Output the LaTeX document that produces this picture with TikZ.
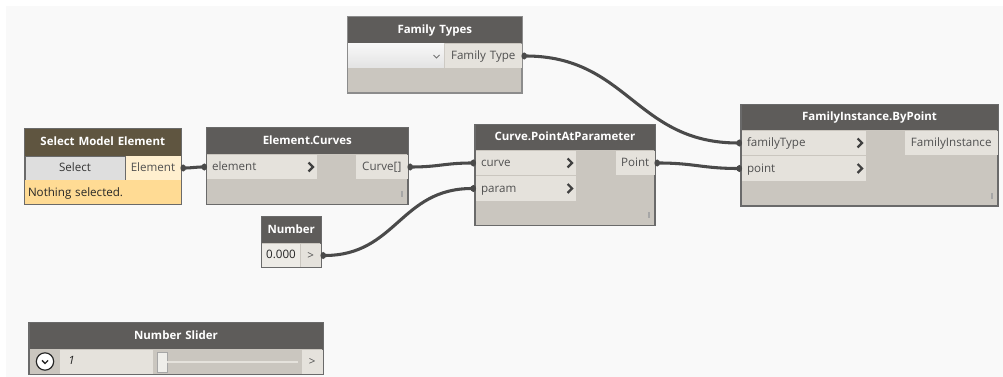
\documentclass[tikz,border=0pt]{standalone}
\usepackage{fontspec}
\setmainfont{Open Sans}
\usetikzlibrary{arrows.meta}
\definecolor{bgc}{HTML}{F9F9F9}
\definecolor{hdr}{HTML}{5E5C5A}
\definecolor{hdrsel}{HTML}{5F5540}
\definecolor{bodyc}{HTML}{CAC6BF}
\definecolor{portc}{HTML}{E5E2DC}
\definecolor{edge}{HTML}{6A6A6A}
\definecolor{wire}{HTML}{4A4A4A}
\definecolor{txt}{HTML}{505050}
\definecolor{selmsg}{HTML}{FFDB94}
\definecolor{selport}{HTML}{FFEFCF}
\definecolor{btnc}{HTML}{DEDEDE}
\newcommand\pbox[7]{%
  \pgfmathsetlengthmacro\bw{(#5-#3)*0.75pt}%
  \pgfmathsetlengthmacro\bh{(#6-#4)*0.75pt}%
  \node[#1,anchor=north west,text width=\bw-4.5pt,minimum height=\bh] (#2) at (#3,#4) {#7};}
\newcommand\chev[1]{\draw[chevron] ([xshift=-8.5*0.75pt,yshift=4.5*0.75pt]#1.east) -- ++(4.5,4.5) -- ++(-4.5,4.5);}
\newcommand\grip[1]{\draw[gripc] ([xshift=-6*0.75pt,yshift=13*0.75pt]#1.south east) -- ++(0,6);}
\tikzset{
  x=0.75pt,y=-0.75pt,
  every node/.style={inner xsep=2.25pt,inner ysep=0pt,outer sep=0pt,font=\fontsize{8.7}{10}\selectfont,text=txt,text height=7.2pt,text depth=1.2pt},
  frame/.style={draw=edge,line width=0.9pt,fill=bodyc},
  head/.style={fill=hdr,text=white,font=\fontsize{8.6}{10}\selectfont\bfseries,align=center,text height=6.3pt,text depth=2.1pt},
  headsel/.style={head,fill=hdrsel},
  inport/.style={fill=portc,align=left,execute at begin node={\hspace*{1.5pt}}},
  outport/.style={fill=portc,align=center},
  chevron/.style={draw=black!75,line width=1.6pt},
  gripc/.style={draw=black!35,line width=0.8pt},
  wirec/.style={draw=wire,line width=2.3pt,{Circle[length=4pt,width=5pt]}-{Circle[length=4pt,width=5pt]},out=0,in=180,looseness=1.15},
}
\begin{document}
\begin{tikzpicture}
\useasboundingbox (0,0) rectangle (1003,377);
\fill[white] (0,0) rectangle (1003,377);
\fill[bgc] (6,6) rectangle (1003,377);
% Select Model Element
\pbox{frame,fill=selmsg}{selFrame}{24.5}{128.5}{181}{204.5}{}
\pbox{headsel}{selHead}{25}{129}{180.5}{156}{Select Model Element}
\pbox{draw=edge,line width=0.6pt,fill=btnc,text=black!80,align=center}{selBtn}{25}{156}{125}{180}{Select}
\pbox{fill=selport,align=center}{selOut}{125.5}{156}{180.5}{180}{Element}
\pbox{fill=selmsg,text=black!85,align=left}{selMsg}{25}{180.5}{180.5}{204}{Nothing selected.}
% Element.Curves
\pbox{frame}{ecFrame}{206.5}{128}{408}{204.5}{}
\pbox{head}{ecHead}{207}{128.5}{407.5}{154.5}{Element.Curves}
\pbox{inport}{ecIn}{207}{155}{317}{179}{element}
\pbox{outport}{ecOut}{356}{155}{407.5}{179}{Curve[]}
\chev{ecIn}\grip{ecFrame}
% Family Types
\pbox{frame,draw=black!45}{ftFrame}{347.5}{17}{522}{93}{}
\pbox{head}{ftHead}{348}{17.5}{521.5}{43.5}{Family Types}
\pbox{top color=black!3,bottom color=black!11,align=left}{ftCombo}{348}{44}{444}{68}{}
\pbox{outport}{ftOut}{445}{44}{521.5}{68}{Family Type}
\draw[draw=black!55,line width=0.7pt] ([xshift=-10.5*0.75pt,yshift=1*0.75pt]ftCombo.east) -- ++(3,3) -- ++(3,-3);
% Curve.PointAtParameter
\pbox{frame}{cpFrame}{475}{125}{655}{225.5}{}
\pbox{head}{cpHead}{475.5}{125.5}{654.5}{150.5}{Curve.PointAtParameter}
\pbox{inport}{cpCurve}{476}{151}{576}{175}{curve}
\pbox{inport}{cpParam}{476}{176}{576}{201}{param}
\pbox{outport}{cpOut}{616}{151}{654.5}{175}{Point}
\chev{cpCurve}\chev{cpParam}\grip{cpFrame}
% FamilyInstance.ByPoint
\pbox{frame}{fiFrame}{741}{105}{998}{206}{}
\pbox{head}{fiHead}{741.5}{105.5}{997.5}{130.5}{FamilyInstance.ByPoint}
\pbox{inport}{fiType}{742}{131}{866}{155}{familyType}
\pbox{inport}{fiPoint}{742}{156}{866}{181}{point}
\pbox{outport}{fiOut}{905}{131}{997.5}{155}{FamilyInstance}
\chev{fiType}\chev{fiPoint}\grip{fiFrame}
% Number
\pbox{frame}{nFrame}{261.5}{217}{321}{267.5}{}
\pbox{head}{nHead}{262}{217.5}{320.5}{243.5}{Number}
\pbox{fill=portc!70!white,text=black!85,align=center,text height=6.3pt,text depth=2.1pt}{nVal}{262}{244}{300}{267}{0.000}
\pbox{outport,fill=portc}{nOut}{301}{244}{320.5}{267}{>}
% Number Slider
\pbox{frame}{nsFrame}{29}{323}{323}{374.5}{}
\pbox{head}{nsHead}{29.5}{323.5}{322.5}{349}{Number Slider}
\pbox{fill=portc,align=left,text=black!85,font=\fontsize{8.6}{10}\selectfont\itshape,text height=6.3pt,text depth=2.1pt}{nsVal}{60}{350}{153}{374}{\hspace*{4pt}1}
\pbox{outport}{nsOut}{302}{350}{322.5}{374}{>}
\node[circle,draw=black!85,line width=0.9pt,fill=white,minimum size=13pt,inner sep=0pt,text height=0pt,text depth=0pt] (nsDrop) at (45,361.5) {};
\draw[line width=1pt,draw=black!85] ([xshift=-2.2pt,yshift=0.8pt]nsDrop.center) -- ++(3,3) -- ++(3,-3);
\node[draw=black!35,line width=0.5pt,fill=portc!60!white,minimum width=7.5pt,minimum height=15pt,inner sep=0pt,text height=0pt,text depth=0pt,anchor=west] (nsThumb) at (157,362) {};
\coordinate (nsEnd) at (298,362);
\draw[draw=portc,line width=2.2pt] (nsThumb.east) -- (nsEnd);
% Wires
\draw[wirec] (selOut.east) to (ecIn.west);
\draw[wirec] (ecOut.east) to (cpCurve.west);
\draw[wirec] (nOut.east) to (cpParam.west);
\draw[wirec] (ftOut.east) to (fiType.west);
\draw[wirec] (cpOut.east) to (fiPoint.west);
\end{tikzpicture}
\end{document}
